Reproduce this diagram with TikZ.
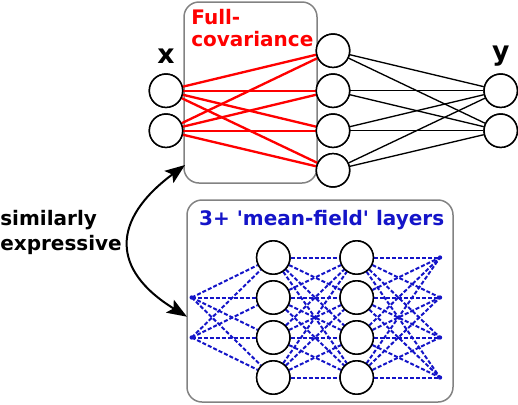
\documentclass[tikz,border=0pt]{standalone}
\usepackage{fontspec}
\setmainfont{DejaVu Sans}
\usepackage{xcolor}
\usepackage{tikz}
\usetikzlibrary{arrows.meta}

\definecolor{mfblue}{RGB}{20,20,200}
\definecolor{boxgray}{RGB}{130,130,130}

\tikzset{
    unit/.style={circle, draw, line width=0.9pt, fill=white, minimum size=20pt, inner sep=0pt},
    panel/.style={draw=boxgray, line width=0.9pt, rounded corners=9pt, inner sep=0pt},
    redline/.style={red, line width=1.4pt},
    blackline/.style={black, line width=0.8pt},
    mfline/.style={mfblue, line width=1.2pt, dash pattern=on 2.4pt off 1.2pt},
    lbl/.style={font=\bfseries\fontsize{12}{13}\selectfont},
    simtip/.tip={Stealth[length=12pt,width=9pt,inset=2.5pt]},
}

\begin{document}
\begin{tikzpicture}[x=0.6pt, y=-0.6pt]
    \useasboundingbox (0,0) rectangle (518,404);

    % Panels
    \node[panel, minimum width=79.8pt, minimum height=108.6pt] (covbox) at (250.5,92.5) {};
    \node[panel, minimum width=159.6pt, minimum height=121.2pt] (mfbox) at (320,301) {};

    % Top network
    \node[unit] (x1) at (166,90.7) {};
    \node[unit] (x2) at (166,130.7) {};
    \foreach \j/\yy in {1/50.7, 2/90.7, 3/130.7, 4/170.3}
        \node[unit] (h\j) at (333,\yy) {};
    \node[unit] (y1) at (500.7,90.7) {};
    \node[unit] (y2) at (500.7,130.7) {};

    \foreach \i in {1,2}
        \foreach \j in {1,...,4}
            \draw[redline] (x\i) -- (h\j);
    \foreach \j in {1,...,4}
        \foreach \k in {1,2}
            \draw[blackline] (h\j) -- (y\k);

    % redraw circles on top
    \foreach \n in {x1,x2,h1,h2,h3,h4,y1,y2}
        \node[unit] at (\n) {};

    \node[font=\bfseries\fontsize{16}{18}\selectfont] (xlab) at (166,56) {x};
    \node[font=\bfseries\fontsize{16}{18}\selectfont] (ylab) at (500.7,56) {y};
    \node[lbl, red, anchor=north west, align=left, inner sep=0pt] (covlab) at (191,9) {Full-\\covariance};

    % Bottom network
    \coordinate (in1) at (191.7,297.5);
    \coordinate (in2) at (191.7,337.5);
    \foreach \j/\yy in {1/257.5, 2/297.5, 3/337.5, 4/377.5} {
        \node[unit] (a\j) at (273.3,\yy) {};
        \node[unit] (b\j) at (356.7,\yy) {};
        \coordinate (out\j) at (440,\yy);
    }
    \foreach \i in {1,2}
        \foreach \j in {1,...,4}
            \draw[mfline] (in\i) -- (a\j);
    \foreach \i in {1,...,4}
        \foreach \j in {1,...,4} {
            \draw[mfline] (a\i) -- (b\j);
            \draw[mfline] (b\i) -- (out\j);
        }
    \foreach \n in {in1,in2,out1,out2,out3,out4}
        \fill[mfblue] (\n) circle (1.3pt);
    \foreach \n in {a1,a2,a3,a4,b1,b2,b3,b4}
        \node[unit] at (\n) {};

    \node[lbl, mfblue] (mflab) at (321.7,220) {3+ \textquotesingle mean-field\textquotesingle\ layers};

    % Similarity arrow
    \coordinate (tipA) at (185,165);
    \coordinate (tipB) at (187,316.7);
    \draw[simtip-simtip, line width=1.2pt]
        (tipA) .. controls (111,220) and (111,270) .. (tipB);
    \node[lbl, anchor=west, align=left, inner sep=0pt, font=\bfseries\fontsize{12}{15}\selectfont] (simlab) at (0,232) {similarly\\expressive};

\end{tikzpicture}
\end{document}
